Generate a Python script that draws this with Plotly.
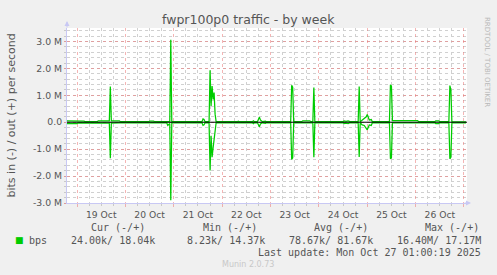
import plotly.graph_objects as go

# ---- data (values in Mbit/s) ----
times = [
    "2025-10-18 19:00", "2025-10-19 00:00", "2025-10-19 00:30", "2025-10-19 03:30", "2025-10-19 04:00",
    "2025-10-19 10:00", "2025-10-19 10:30", "2025-10-19 16:00", "2025-10-19 16:30", "2025-10-19 17:00",
    "2025-10-19 21:00", "2025-10-19 21:30", "2025-10-20 11:30", "2025-10-20 12:00", "2025-10-20 14:00",
    "2025-10-20 14:30", "2025-10-20 20:30", "2025-10-20 21:00", "2025-10-20 22:00", "2025-10-20 22:30",
    "2025-10-20 23:00", "2025-10-21 14:00", "2025-10-21 14:30", "2025-10-21 15:00", "2025-10-21 15:30",
    "2025-10-21 17:30", "2025-10-21 18:00", "2025-10-21 18:30", "2025-10-21 19:00", "2025-10-21 19:30",
    "2025-10-21 20:00", "2025-10-21 20:30", "2025-10-21 21:00", "2025-10-22 07:30", "2025-10-22 08:00",
    "2025-10-22 08:30", "2025-10-22 15:00", "2025-10-22 15:30", "2025-10-22 16:00", "2025-10-22 17:30",
    "2025-10-22 18:30", "2025-10-22 19:00", "2025-10-22 19:30", "2025-10-22 20:00", "2025-10-22 21:30",
    "2025-10-22 22:00", "2025-10-23 10:00", "2025-10-23 10:30", "2025-10-23 11:00", "2025-10-23 11:30",
    "2025-10-23 15:30", "2025-10-23 16:00", "2025-10-23 19:30", "2025-10-23 20:00", "2025-10-23 21:00",
    "2025-10-23 21:30", "2025-10-23 22:00", "2025-10-24 03:00", "2025-10-24 03:30", "2025-10-24 04:00",
    "2025-10-24 12:00", "2025-10-24 12:30", "2025-10-24 13:30", "2025-10-24 14:30", "2025-10-24 15:30",
    "2025-10-24 19:30", "2025-10-24 20:00", "2025-10-24 20:30", "2025-10-24 21:30", "2025-10-24 22:30",
    "2025-10-24 23:30", "2025-10-25 00:00", "2025-10-25 01:00", "2025-10-25 02:00", "2025-10-25 02:30",
    "2025-10-25 11:00", "2025-10-25 11:30", "2025-10-25 12:00", "2025-10-25 12:30", "2025-10-26 01:00",
    "2025-10-26 01:30", "2025-10-26 09:30", "2025-10-26 10:00", "2025-10-26 11:30", "2025-10-26 12:00",
    "2025-10-26 16:30", "2025-10-26 17:00", "2025-10-26 17:30", "2025-10-26 18:00", "2025-10-27 01:00",
]
out_mbps = [
    0.05, 0.05, 0.05, 0.04, 0.02,
    0.02, 0.05, 0.05, 1.33, 0.05,
    0.05, 0.02, 0.02, 0.04, 0.04,
    0.02, 0.02, 0.02, 0.02, 3.06,
    0.02, 0.02, 0.12, 0.10, 0.02,
    0.02, 1.93, 0.60, 1.34, 0.85,
    1.10, 0.30, 0.02, 0.02, 0.04,
    0.02, 0.02, 0.05, 0.02, 0.02,
    0.19, 0.08, 0.05, 0.02, 0.04,
    0.02, 0.02, 1.37, 1.30, 0.02,
    0.02, 0.05, 0.05, 0.02, 0.02,
    1.29, 0.02, 0.02, 0.04, 0.02,
    0.02, 0.05, 0.03, 0.05, 0.02,
    0.02, 1.33, 0.02, 0.08, 0.12,
    0.20, 0.29, 0.08, 0.10, 0.02,
    0.02, 1.39, 1.35, 0.06, 0.06,
    0.02, 0.02, 0.05, 0.05, 0.02,
    0.02, 1.36, 1.20, 0.02, 0.018,
]
in_mbps = [
    0.05, 0.05, 0.02, 0.02, 0.02,
    0.02, 0.02, 0.03, 1.34, 0.03,
    0.02, 0.02, 0.02, 0.02, 0.02,
    0.02, 0.02, 0.12, 0.05, 2.90,
    0.02, 0.02, 0.12, 0.10, 0.02,
    0.02, 1.79, 0.50, 1.30, 0.95,
    0.60, 0.20, 0.02, 0.02, 0.02,
    0.02, 0.02, 0.05, 0.02, 0.02,
    0.17, 0.06, 0.05, 0.02, 0.04,
    0.02, 0.02, 1.38, 1.32, 0.02,
    0.02, 0.02, 0.02, 0.02, 0.02,
    1.30, 0.02, 0.02, 0.02, 0.02,
    0.02, 0.05, 0.03, 0.05, 0.02,
    0.02, 1.29, 0.02, 0.10, 0.12,
    0.20, 0.28, 0.10, 0.12, 0.02,
    0.02, 1.36, 1.33, 0.02, 0.02,
    0.02, 0.02, 0.05, 0.05, 0.02,
    0.02, 1.36, 1.30, 0.02, 0.024,
]

y_tick_vals = [-3, -2, -1, 0, 1, 2, 3]
y_tick_text = ["-3.0 M", "-2.0 M", "-1.0 M", "0.0", "1.0 M", "2.0 M", "3.0 M"]

title_text = "fwpr100p0 traffic - by week"
y_title = "bits in (-) / out (+) per second"
legend_headers = ["Cur (-/+)", "Min (-/+)", "Avg (-/+)", "Max (-/+)"]
legend_values = ["24.00k/ 18.04k", "8.23k/ 14.37k", "78.67k/ 81.67k", "16.40M/ 17.17M"]
series_name = "bps"
last_update = "Last update: Mon Oct 27 01:00:19 2025"
footer = "Munin 2.0.73"
side_text = "RRDTOOL / TOBI OETIKER"

# ---- layout constants ----
W, H = 497, 275
L, R, T, B = 67, 30, 28, 72
PW, PH = W - L - R, H - T - B
GREEN = "#00cc00"
TXT = "#555555"
MGRID = "rgba(235,120,120,0.55)"
GRID = "#d0d0d0"
AXIS = "#c8c8f4"
MONO = "DejaVu Sans Mono"
SANS = "DejaVu Sans"


def px(x):
    return (x - L) / PW


def py(y):
    return (H - B - y) / PH


fig = go.Figure()
fig.add_trace(go.Scatter(x=times, y=[-v for v in in_mbps], mode="lines",
                         line=dict(color=GREEN, width=1.25), hoverinfo="skip"))
fig.add_trace(go.Scatter(x=times, y=out_mbps, mode="lines",
                         line=dict(color=GREEN, width=1.25), hoverinfo="skip"))

fig.add_shape(type="line", xref="paper", yref="y", x0=0, x1=1, y0=0, y1=0,
              line=dict(color="black", width=1), layer="above")

ann = []
ann.append(dict(text=title_text, x=px(248.5), y=py(19), xanchor="center", yanchor="middle",
                font=dict(family=SANS, size=12.5, color=TXT)))
ann.append(dict(text=y_title, x=px(11), y=py(115.5), xanchor="center", yanchor="middle",
                textangle=-90, font=dict(family=SANS, size=11, color=TXT)))
ann.append(dict(text=side_text, x=px(487), y=py(62), xanchor="center", yanchor="middle",
                textangle=90, font=dict(family=SANS, size=7, color="#b8b8b8")))
head_x = [89, 201, 312, 422.7]
for hx, h in zip(head_x, legend_headers):
    ann.append(dict(text=h, x=px(hx), y=py(227.5), xanchor="left", yanchor="middle",
                    font=dict(family=MONO, size=10, color=TXT)))
val_right = [157, 266.7, 375, 482.7]
for vx, v in zip(val_right, legend_values):
    ann.append(dict(text=v, x=px(vx), y=py(240), xanchor="right", yanchor="middle",
                    font=dict(family=MONO, size=10, color=TXT)))
ann.append(dict(text="■", x=px(13), y=py(240), xanchor="left", yanchor="middle",
                font=dict(family=SANS, size=9, color=GREEN)))
ann.append(dict(text=series_name, x=px(26.7), y=py(240), xanchor="left", yanchor="middle",
                font=dict(family=MONO, size=10, color=TXT)))
ann.append(dict(text=last_update, x=px(482.7), y=py(252), xanchor="right", yanchor="middle",
                font=dict(family=MONO, size=10, color=TXT)))
ann.append(dict(text=footer, x=px(248), y=py(264), xanchor="center", yanchor="middle",
                font=dict(family=SANS, size=8, color="#c8c8c8")))
# axis arrows
ann.append(dict(text="", x=px(67), y=py(21), ax=0, ay=8, showarrow=True, arrowhead=2,
                arrowsize=1, arrowwidth=1, arrowcolor=AXIS))
ann.append(dict(text="", x=px(471), y=py(203), ax=-8, ay=0, showarrow=True, arrowhead=2,
                arrowsize=1, arrowwidth=1, arrowcolor=AXIS))
for a in ann:
    a.setdefault("showarrow", False)
    a["xref"] = "paper"
    a["yref"] = "paper"

fig.update_layout(
    width=W, height=H, autosize=False,
    margin=dict(l=L, r=R, t=T, b=B, pad=0),
    paper_bgcolor="#f0f0f0", plot_bgcolor="white",
    showlegend=False,
    annotations=ann,
    xaxis=dict(
        type="date", range=["2025-10-18 19:00", "2025-10-27 01:30"],
        tick0="2025-10-19", dtick=86400000, ticklabelmode="period", tickformat="%d %b",
        showgrid=True, gridcolor=MGRID, griddash="dot", gridwidth=1,
        ticks="outside", ticklen=3, tickcolor=MGRID,
        showline=True, linecolor=AXIS, linewidth=1,
        zeroline=False, fixedrange=True,
        tickfont=dict(family=SANS, size=9.2, color=TXT),
        minor=dict(tick0="2025-10-19", dtick=21600000, showgrid=True, gridcolor=GRID,
                   griddash="dot", gridwidth=1, ticks="outside", ticklen=2, tickcolor="#c8c8c8"),
    ),
    yaxis=dict(
        range=[-3.0, 3.5], tickmode="array", tickvals=y_tick_vals, ticktext=y_tick_text,
        showgrid=True, gridcolor=MGRID, griddash="dot", gridwidth=1,
        ticks="outside", ticklen=2, tickcolor=MGRID,
        showline=True, linecolor=AXIS, linewidth=1,
        zeroline=False, fixedrange=True,
        tickfont=dict(family=SANS, size=9.3, color=TXT),
        minor=dict(tickmode="linear", tick0=0, dtick=0.2, showgrid=True, gridcolor=GRID,
                   griddash="dot", gridwidth=1, ticks="outside", ticklen=2, tickcolor="#c8c8c8"),
    ),
)

fig.write_html("out.html", config={"displayModeBar": False})
